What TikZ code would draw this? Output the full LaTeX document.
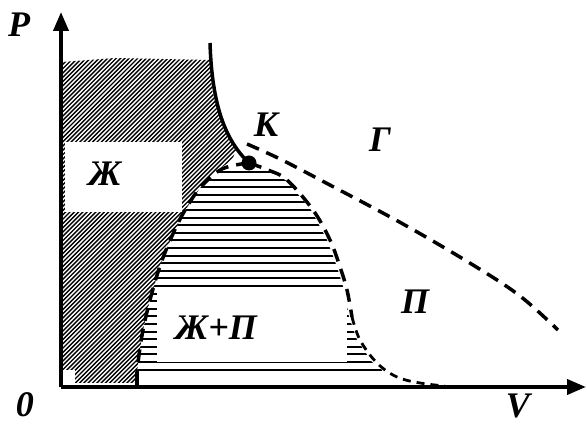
\documentclass[tikz,border=0pt]{standalone}
\usepackage{fontspec}
\setmainfont{Liberation Serif}
\usetikzlibrary{arrows.meta}
\begin{document}
\begin{tikzpicture}[x=1pt,y=-1pt,
  lbl/.style={font=\fontsize{36}{38}\selectfont\bfseries\itshape, inner sep=0pt},
  axisline/.style={line width=3.8pt, -{Triangle[length=19pt,width=15pt]}},
  dsh/.style={line width=3.5pt, dash pattern=on 13pt off 8pt},
  dshs/.style={line width=2.8pt, dash pattern=on 8pt off 6pt},
  solidcurve/.style={line width=3.5pt},
  diaghatch/.style={line width=1.35pt},
  horhatch/.style={line width=2pt},
  whitebox/.style={fill=white, draw=none},
  kdot/.style={circle, fill=black, minimum size=15pt, inner sep=0pt}
]
\useasboundingbox (0,0) rectangle (587,427);

% coordinates
\coordinate (O) at (61,387);
\coordinate (Ptip) at (61,12);
\coordinate (Vtip) at (586,387);
\coordinate (S) at (210,43);
\coordinate (K) at (249,163);
\coordinate (B1) at (137,372);
\coordinate (B0) at (137,387);
\coordinate (G0) at (247,144);
\coordinate (Gend) at (558,330);

% diagonal hatching (liquid)
\begin{scope}
\clip (62,62) -- (115,58) -- (210,60) -- (212,90) -- (218,110) -- (226,130) -- (236,150)
  -- (232,160) -- (215,172) -- (200,188) -- (184,212) -- (172,236) -- (160,266)
  -- (150,300) -- (143,330) -- (139,355) -- (137,372) -- (137,383) -- (62,383) -- cycle;
\foreach \i in {0,...,125}
  \draw[diaghatch] ({-280+4.3*\i},390) -- ({60+4.3*\i},50);
\end{scope}
\fill[whitebox] (65,142) rectangle (182,212);
\fill[whitebox] (62,370) rectangle (75,384);

% horizontal hatching (liquid + vapour)
\begin{scope}
\clip (248,165) -- (268,170) -- (287,181) -- (311,210) -- (327,240) -- (337,267)
  -- (344,290) -- (349,317) -- (357,340) -- (372,362) -- (382,370) -- (382,375)
  -- (137,375) -- (137,372) -- (139,355) -- (143,330) -- (150,300) -- (160,266)
  -- (172,236) -- (184,212) -- (200,188) -- (222,169) -- cycle;
\foreach \k in {0,...,26}
  \draw[horhatch] (130,{172+7.6*\k}) -- (400,{172+7.6*\k});
\end{scope}
\fill[whitebox] (157,293) rectangle (347,362);

% axes
\draw[axisline] (O) -- (Ptip);
\draw[axisline] (O) -- (Vtip);

% solid curve to critical point
\draw[solidcurve] (S) .. controls (212,105) and (225,140) .. (K);
\draw[solidcurve] (B1) -- (B0);

% dome boundaries
\draw[dsh] plot[smooth, tension=0.6] coordinates {(249,163) (222,169) (200,188) (184,212) (172,236) (160,266) (150,300) (143,330) (139,355) (137,372)};
\draw[dsh] plot[smooth, tension=0.6] coordinates {(249,163) (268,170) (287,180) (313,210) (330,240) (340,267) (347,290) (352,317)};
\draw[dshs] plot[smooth, tension=0.6] coordinates {(352,317) (360,340) (377,363) (397,377) (420,383) (445,386)};

% critical isotherm
\draw[dsh] plot[smooth, tension=0.6] coordinates {(G0) (280,159) (328,184) (403,224) (473,265) (520,296) (Gend)};

% critical point
\node[kdot] (Kdot) at (K) {};

% labels
\node[lbl] (lP) at (19,25) {P};
\node[lbl] (l0) at (25,405) {0};
\node[lbl] (lV) at (518,406) {V};
\node[lbl] (lK) at (266,125) {К};
\node[lbl] (lG) at (380,140) {Г};
\node[lbl] (lZh) at (105,174) {Ж};
\node[lbl] (lZhP) at (216,328) {Ж+П};
\node[lbl] (lPi) at (415,302) {П};
\end{tikzpicture}
\end{document}
